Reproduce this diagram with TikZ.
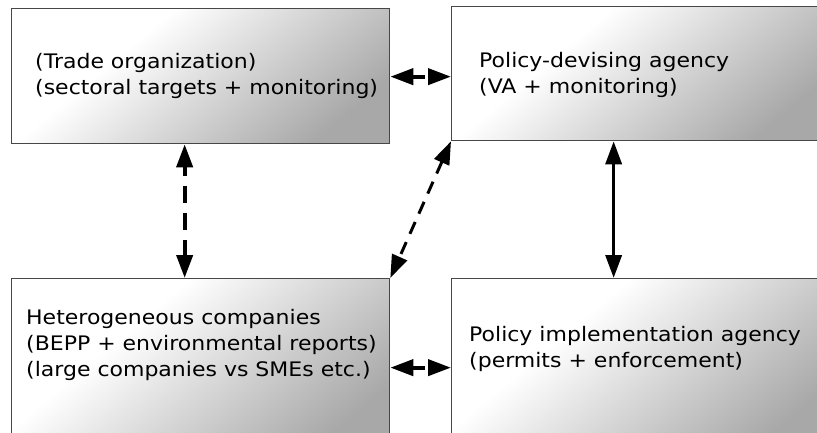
\documentclass[tikz,border=0pt]{standalone}
\usepackage{fontspec}
\setmainfont{DejaVu Sans}[FakeStretch=1.1]
\usetikzlibrary{arrows.meta}

% soft grey fade used to fill every box: white at top left, grey at bottom right
\pgfdeclareverticalshading{boxshade}{100bp}{%
  color(0bp)=(black!34); color(25bp)=(black!34); color(47bp)=(black!15);
  color(64bp)=(white); color(100bp)=(white)}

\tikzset{
  actor/.style={draw=black!72, line width=1.3pt, shading=boxshade,
    shading angle=40, rectangle, anchor=north west, inner sep=0pt,
    minimum width=378pt},
  label/.style={anchor=base west, inner sep=0pt,
    font=\fontsize{20}{26}\selectfont},
  link/.style={{Triangle[length=23pt, width=16pt]}-{Triangle[length=23pt, width=16pt]},
    line width=4pt},
}

\newcommand{\lines}[1]{\begin{tabular}[t]{@{}l@{}}#1\end{tabular}}

\begin{document}
\begin{tikzpicture}[x=1pt, y=-1pt]
  \useasboundingbox (0,0) rectangle (817,433);
  \clip (0,0) rectangle (817,433);
  \fill[white] (0,0) rectangle (817,433);

  % the four actors
  \node[actor, minimum height=135pt] (A) at (11,8) {};
  \node[actor, minimum height=134pt] (B) at (451,6) {};
  \node[actor, minimum height=178pt] (C) at (11,278) {};
  \node[actor, minimum height=178pt] (D) at (451,278) {};

  % their descriptions
  \node[label] (tA) at (35,69)
    {\lines{(Trade organization)\\(sectoral targets + monitoring)}};
  \node[label] (tB) at (479,68)
    {\lines{Policy-devising agency\\(VA + monitoring)}};
  \node[label] (tC) at (26,324)
    {\lines{Heterogeneous companies\\(BEPP + environmental reports)\\(large companies vs SMEs etc.)}};
  \node[label] (tD) at (469,341)
    {\lines{Policy implementation agency\\(permits + enforcement)}};

  % relations between the actors
  \draw[link, dash pattern=on 13pt off 6pt]
    ([yshift=-0.5pt]A.east) -- ([yshift=-0.5pt]A.east -| B.west);
  \draw[link, dash pattern=on 17pt off 10pt, dash phase=7pt]
    ([xshift=-16pt]A.south) -- ([xshift=-16pt]A.south |- C.north);
  \draw[link, line width=3pt, dash pattern=on 13pt off 9pt]
    (B.south west) -- (C.north east);
  \draw[link, line width=3.5pt]
    ([xshift=-27pt]B.south) -- ([xshift=-27pt]B.south |- D.north);
  \draw[link, dash pattern=on 13pt off 6pt]
    (C.east) -- (C.east -| D.west);
\end{tikzpicture}
\end{document}
